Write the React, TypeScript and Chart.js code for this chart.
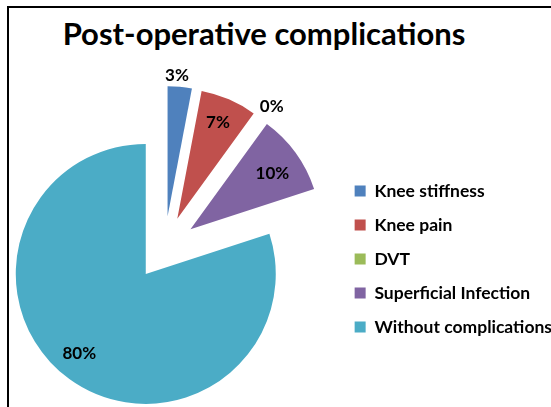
import React, { useEffect, useRef } from 'react';
import { Chart, registerables } from 'chart.js';

Chart.register(...registerables);

// ---- data ----
const CATEGORIES = ['Knee stiffness', 'Knee pain', 'DVT', 'Superficial Infection', 'Without complications'];
const VALUES = [3, 7, 0, 10, 80];
const TITLE = 'Post-operative complications';

// ---- styles ----
const COLORS = ['#4F81BD', '#C0504D', '#9BBB59', '#8064A2', '#4BACC6'];
const FONT = 'Lato';
const EXPLODE = 32;
const LABEL_RADIUS = [1.087, 0.8, 1.122, 0.76, 0.8];
const LABEL_ANGLE_SHIFT = [-1.6, -0.4, 1.3, 2, 3.7];
const LABEL_FONT_SIZE = 17;
const LEGEND_FONT_SIZE = 17.5;
const LEGEND_PAD = 16.5;
const LEGEND_BOX = 11;
const PLOT_LEFT = -9;
const PLOT_WIDTH = 346.75;
const PLOT_TOP = 118;
const PLOT_BOTTOM = 378;
const CANVAS_HEIGHT = 420;

const explodePlugin = {
  id: 'explodeSlices',
  beforeDatasetDraw(chart: any, args: any) {
    const ctx = chart.ctx;
    args.meta.data.forEach((arc: any) => {
      const mid = (arc.startAngle + arc.endAngle) / 2;
      ctx.save();
      ctx.translate(Math.cos(mid) * EXPLODE, Math.sin(mid) * EXPLODE);
      arc.draw(ctx);
      ctx.restore();
    });
    return false;
  },
};

const labelPlugin = {
  id: 'sliceLabels',
  afterDatasetsDraw(chart: any) {
    const meta = chart.getDatasetMeta(0);
    const ctx = chart.ctx;
    ctx.save();
    ctx.font = `bold ${LABEL_FONT_SIZE}px ${FONT}`;
    ctx.fillStyle = '#000';
    ctx.textAlign = 'center';
    ctx.textBaseline = 'middle';
    meta.data.forEach((arc: any, i: number) => {
      const mid = (arc.startAngle + arc.endAngle) / 2;
      const ax = arc.x + Math.cos(mid) * EXPLODE;
      const ay = arc.y + Math.sin(mid) * EXPLODE;
      const a = mid + (LABEL_ANGLE_SHIFT[i] * Math.PI) / 180;
      const dist = LABEL_RADIUS[i] * arc.outerRadius;
      ctx.fillText(`${VALUES[i]}%`, ax + Math.cos(a) * dist, ay + Math.sin(a) * dist);
    });
    ctx.restore();
  },
};

export default function App() {
  const ref = useRef<HTMLCanvasElement>(null);

  useEffect(() => {
    const canvas = ref.current!;
    const m = document.createElement('canvas').getContext('2d')!;
    m.font = `bold ${LEGEND_FONT_SIZE}px ${FONT}`;
    const tw = Math.max(...CATEGORIES.map((c) => m.measureText(c).width));
    const legendWidth = LEGEND_PAD + LEGEND_BOX + LEGEND_FONT_SIZE / 2 + tw + 10;
    const W = Math.round(PLOT_WIDTH + legendWidth);
    canvas.width = W;
    canvas.height = CANVAS_HEIGHT;
    canvas.style.width = W + 'px';
    canvas.style.height = CANVAS_HEIGHT + 'px';

    const chart = new Chart(canvas, {
      type: 'pie',
      data: {
        labels: CATEGORIES,
        datasets: [{ data: VALUES, backgroundColor: COLORS, borderWidth: 0 }],
      },
      options: {
        responsive: false,
        animation: false,
        layout: { padding: { top: PLOT_TOP, left: 0, right: 0, bottom: CANVAS_HEIGHT - PLOT_BOTTOM } },
        plugins: {
          tooltip: { enabled: false },
          title: { display: false },
          legend: {
            position: 'right',
            fullSize: false,
            title: { display: true, text: ' ', padding: 5, font: { size: 10 } },
            labels: {
              boxWidth: LEGEND_BOX,
              boxHeight: LEGEND_BOX,
              padding: LEGEND_PAD,
              color: '#000',
              font: { family: FONT, size: LEGEND_FONT_SIZE, weight: 'bold' },
            },
          },
        },
      } as any,
      plugins: [explodePlugin, labelPlugin],
    });
    return () => chart.destroy();
  }, []);

  return (
    <div style={{ position: 'fixed', left: 0, top: 0, width: 551, height: 407, overflow: 'hidden', background: '#fff' }}>
      <div
        style={{
          position: 'absolute', left: 7, top: 6, width: 1000, height: 1000,
          borderTop: '2px solid #000', borderLeft: '2px solid #000',
        }}
      />
      <div
        style={{
          position: 'absolute', left: 0, top: 18, width: 528, textAlign: 'center',
          fontFamily: FONT, fontWeight: 'bold', fontSize: 31, lineHeight: '31px',
          color: '#000', whiteSpace: 'nowrap',
        }}
      >
        {TITLE}
      </div>
      <canvas ref={ref} style={{ position: 'absolute', left: PLOT_LEFT, top: 0 }} />
    </div>
  );
}
